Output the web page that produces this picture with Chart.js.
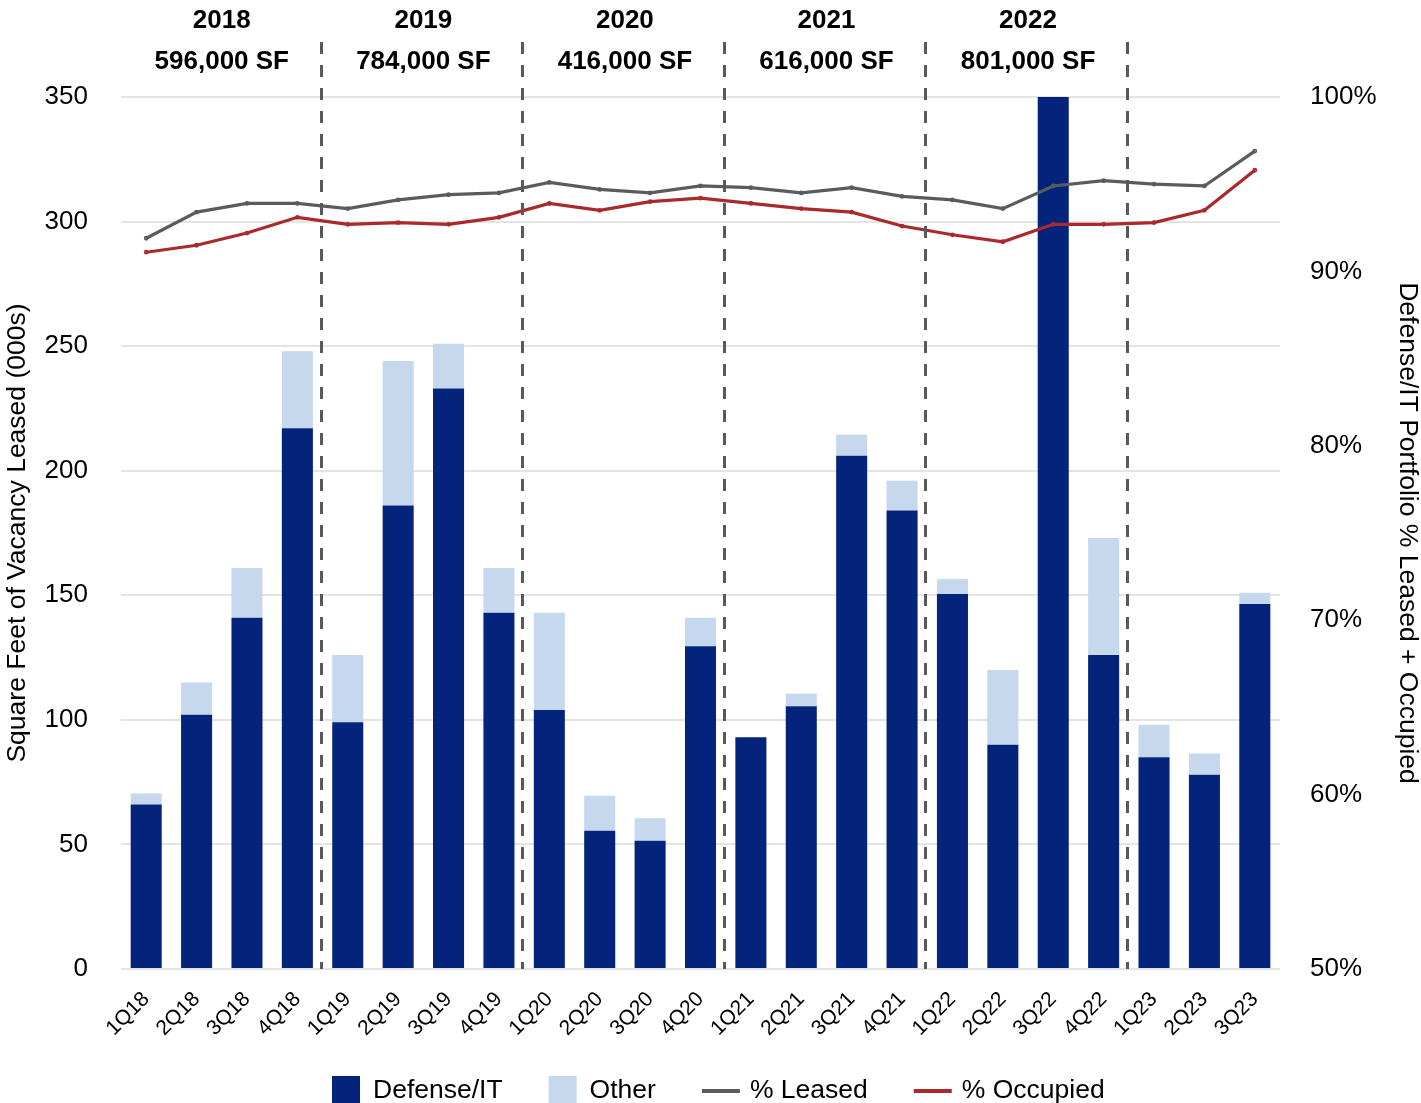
<!DOCTYPE html>
<html><head><meta charset="utf-8">
<script src="https://cdn.jsdelivr.net/npm/chart.js@4.4.1/dist/chart.umd.min.js"></script>
<style>html,body{margin:0;padding:0;background:#fff;overflow:hidden}#wrap{width:1421px;height:1103px;position:relative}</style>
</head><body><div id="wrap"><canvas id="c" width="1421" height="1103"></canvas></div>
<script>
const categories = ['1Q18','2Q18','3Q18','4Q18','1Q19','2Q19','3Q19','4Q19','1Q20','2Q20','3Q20','4Q20','1Q21','2Q21','3Q21','4Q21','1Q22','2Q22','3Q22','4Q22','1Q23','2Q23','3Q23'];
const defenseIT = [66,102,141,217,99,186,233,143,104,55.5,51.5,129.5,93,105.5,206,184,150.5,90,350,126,85,78,146.5];
const other = [4.5,13,20,31,27,58,18,18,39,14,9,11.5,0,5,8.5,12,6,30,0,47,13,8.5,4.5];
const pctLeased = [91.9,93.4,93.9,93.9,93.6,94.1,94.4,94.5,95.1,94.7,94.5,94.9,94.8,94.5,94.8,94.3,94.1,93.6,94.9,95.2,95.0,94.9,96.9];
const pctOccupied = [91.1,91.5,92.2,93.1,92.7,92.8,92.7,93.1,93.9,93.5,94.0,94.2,93.9,93.6,93.4,92.6,92.1,91.7,92.7,92.7,92.8,93.5,95.8];
const leftTickValues = [0,50,100,150,200,250,300,350];
const rightTickValues = [50,60,70,80,90,100];
const years = ['2018','2019','2020','2021','2022'];
const yearTotals = ['596,000 SF','784,000 SF','416,000 SF','616,000 SF','801,000 SF'];

const NAVY = '#03247A', LIGHT = '#C5D8EE', GRAY = '#5A5C5C', RED = '#AA2A2C';
const FONT = "'Liberation Sans', Arial, sans-serif";

const overlay = {
  id: 'overlay',
  afterDatasetsDraw(chart) {
    const {ctx, chartArea, scales: {x}} = chart;
    ctx.save();
    ctx.strokeStyle = '#595959';
    ctx.lineWidth = 3;
    ctx.setLineDash([12, 11]);
    for (let i = 1; i <= years.length; i++) {
      const px = Math.round(x.getPixelForValue(i * 4 - 0.5)) - 1.5;
      ctx.beginPath();
      ctx.moveTo(px, 42);
      ctx.lineTo(px, chartArea.bottom);
      ctx.stroke();
    }
    ctx.restore();
  },
  afterDraw(chart) {
    const {ctx, scales: {x}} = chart;
    ctx.save();
    ctx.fillStyle = '#000';
    ctx.font = "bold 26px " + FONT;
    ctx.textAlign = 'center';
    ctx.textBaseline = 'middle';
    years.forEach((y, i) => {
      const cx = x.getPixelForValue(i * 4 + 1.5);
      ctx.fillText(y, cx, 21);
      ctx.fillText(yearTotals[i], cx, 62);
    });
    // legend
    const ds = chart.data.datasets;
    const items = [
      {label: ds[2].label, color: ds[2].backgroundColor, type: 'box'},
      {label: ds[3].label, color: ds[3].backgroundColor, type: 'box'},
      {label: ds[0].label, color: ds[0].borderColor, type: 'line'},
      {label: ds[1].label, color: ds[1].borderColor, type: 'line'}
    ];
    ctx.font = "26.5px " + FONT;
    ctx.textAlign = 'left';
    const cy = 1091;
    let px = 332;
    items.forEach(it => {
      if (it.type === 'box') {
        ctx.fillStyle = it.color;
        ctx.fillRect(px, cy - 15, 28, 30);
        px += 28 + 13;
      } else {
        ctx.strokeStyle = it.color;
        ctx.lineWidth = 4;
        ctx.beginPath(); ctx.moveTo(px, cy); ctx.lineTo(px + 38, cy); ctx.stroke();
        px += 38 + 10;
      }
      ctx.fillStyle = '#000';
      ctx.fillText(it.label, px, cy);
      px += ctx.measureText(it.label).width + 46;
    });
    ctx.restore();
  }
};

new Chart(document.getElementById('c'), {
  type: 'bar',
  data: {
    labels: categories,
    datasets: [
      {type: 'line', label: '% Leased', data: pctLeased, yAxisID: 'y1', borderColor: GRAY, backgroundColor: GRAY, borderWidth: 3.2, pointRadius: 0.8, pointBackgroundColor: GRAY, tension: 0, order: 1},
      {type: 'line', label: '% Occupied', data: pctOccupied, yAxisID: 'y1', borderColor: RED, backgroundColor: RED, borderWidth: 3.2, pointRadius: 0.8, pointBackgroundColor: RED, tension: 0, order: 1},
      {type: 'bar', label: 'Defense/IT', data: defenseIT, yAxisID: 'y', backgroundColor: NAVY, borderWidth: 0, barPercentage: 0.616, categoryPercentage: 1, order: 2},
      {type: 'bar', label: 'Other', data: other, yAxisID: 'y', backgroundColor: LIGHT, borderWidth: 0, barPercentage: 0.616, categoryPercentage: 1, order: 2}
    ]
  },
  options: {
    responsive: false,
    devicePixelRatio: 1,
    animation: false,
    layout: {padding: {top: 97, left: 0, right: 0, bottom: 0}},
    plugins: {legend: {display: false}, tooltip: {enabled: false}},
    scales: {
      x: {
        stacked: true,
        grid: {display: false},
        border: {display: false},
        ticks: {font: {family: FONT, size: 21}, color: '#000', minRotation: 45, maxRotation: 45, autoSkip: false, padding: 10},
        afterFit: s => { s.height = 134; }
      },
      y: {
        position: 'left',
        stacked: true,
        min: 0, max: 350,
        afterBuildTicks: s => { s.ticks = leftTickValues.map(v => ({value: v})); },
        grid: {color: '#E4E4E4', lineWidth: 2, drawTicks: false},
        border: {display: false},
        ticks: {font: {family: FONT, size: 26}, color: '#000', padding: 33},
        title: {display: true, text: 'Square Feet of Vacancy Leased (000s)', font: {family: FONT, size: 26.5, lineHeight: 1}, color: '#000', padding: {top: 4, bottom: 0}},
        afterFit: s => { s.width = 121; }
      },
      y1: {
        position: 'right',
        stacked: false,
        min: 50, max: 100,
        afterBuildTicks: s => { s.ticks = rightTickValues.map(v => ({value: v})); },
        grid: {display: false, drawTicks: false},
        border: {display: false},
        ticks: {font: {family: FONT, size: 26}, color: '#000', padding: 30, callback: v => v + '%'},
        title: {display: true, text: 'Defense/IT Portfolio % Leased + Occupied', font: {family: FONT, size: 26.5, lineHeight: 1}, color: '#000', padding: {top: 0, bottom: 0}},
        afterFit: s => { s.width = 141; }
      }
    }
  },
  plugins: [overlay]
});
</script></body></html>
